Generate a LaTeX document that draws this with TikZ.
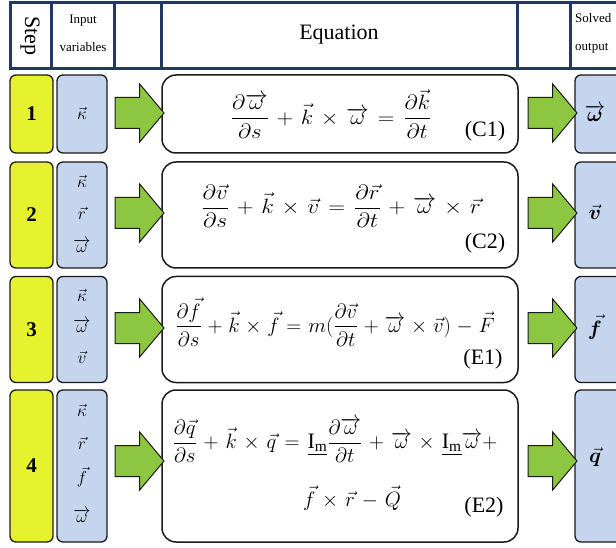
\documentclass[tikz,border=0pt]{standalone}
\usepackage{amsmath,bm}
\usepackage{fontspec}
\setmainfont{Liberation Serif}
\usetikzlibrary{shapes.arrows}
\definecolor{navy}{HTML}{1F3864}
\definecolor{stepyellow}{HTML}{E6F22E}
\definecolor{varblue}{HTML}{C6D5EE}
\definecolor{arrgreen}{HTML}{8DC641}
\definecolor{edge}{HTML}{1A1A1A}
\tikzset{
  hdr/.style={draw=navy, line width=3pt},
  stepbox/.style={draw=edge, fill=stepyellow, line width=1.3pt, rounded corners=6pt, minimum width=43pt, inner sep=0pt, font=\bfseries\fontsize{21}{24}\selectfont},
  varbox/.style={draw=edge, fill=varblue, line width=1.3pt, rounded corners=6pt, minimum width=50pt, inner sep=0pt},
  eqbox/.style={draw=edge, fill=white, line width=1.5pt, rounded corners=14pt, minimum width=356pt, inner sep=0pt},
  outbox/.style={draw=edge, fill=varblue, line width=1.3pt, rounded corners=6pt, minimum width=70pt, inner sep=0pt},
  bigarrow/.style={single arrow, draw=edge, fill=arrgreen, line width=1pt, minimum height=49pt, minimum width=57pt, single arrow head extend=13.5pt, single arrow tip angle=100, inner sep=0pt},
  vartxt/.style={inner sep=0pt, font=\fontsize{17}{20}\selectfont},
  eqtxt/.style={inner sep=0pt, font=\fontsize{22}{26}\selectfont},
  tagtxt/.style={inner sep=0pt, font=\fontsize{22}{25}\selectfont},
  outtxt/.style={inner sep=0pt, font=\fontsize{20}{24}\selectfont},
}
\newcommand{\shaft}{\rule{0pt}{30pt}}
\begin{document}
\begin{tikzpicture}[x=1pt,y=-1pt]
\useasboundingbox (0,0) rectangle (616,548);
% header
\draw[hdr] (10,3) rectangle (630,69);
\foreach \xx in {51,114,161,517,570} \draw[hdr] (\xx,3) -- (\xx,69);
\node[rotate=-90, inner sep=0pt, font=\fontsize{22}{24}\selectfont] (hstep) at (30,36) {Step};
\node[inner sep=0pt, align=center, font=\fontsize{13}{28}\selectfont] (hin) at (83,33) {Input\\variables};
\node[inner sep=0pt, font=\fontsize{22}{24}\selectfont] (heq) at (339,35) {Equation};
\node[inner sep=0pt, align=left, anchor=west, font=\fontsize{13}{28}\selectfont] (hout) at (575,33) {Solved\\output};
% boxes
\node[stepbox, minimum height=78pt] (s1) at (31.5,114) {1};
\node[stepbox, minimum height=106pt] (s2) at (31.5,215) {2};
\node[stepbox, minimum height=106pt] (s3) at (31.5,329.5) {3};
\node[stepbox, minimum height=152pt] (s4) at (31.5,466) {4};
\node[varbox, minimum height=78pt] (v1) at (82,114) {};
\node[varbox, minimum height=106pt] (v2) at (82,215) {};
\node[varbox, minimum height=106pt] (v3) at (82,329.5) {};
\node[varbox, minimum height=152pt] (v4) at (82,466) {};
\node[eqbox, minimum height=78pt] (e1) at (340,114) {};
\node[eqbox, minimum height=106pt] (e2) at (340,215) {};
\node[eqbox, minimum height=106pt] (e3) at (340,329.5) {};
\node[eqbox, minimum height=152pt] (e4) at (340,466) {};
\node[outbox, minimum height=78pt] (o1) at (610,114) {};
\node[outbox, minimum height=106pt] (o2) at (610,215) {};
\node[outbox, minimum height=106pt] (o3) at (610,329.5) {};
\node[outbox, minimum height=152pt] (o4) at (610,466) {};
% arrows
\node[bigarrow] (a1) at (133,113) {\shaft};
\node[bigarrow] (a2) at (133,213) {\shaft};
\node[bigarrow] (a3) at (133,328) {\shaft};
\node[bigarrow] (a4) at (133,461) {\shaft};
\node[bigarrow] (b1) at (546,113) {\shaft};
\node[bigarrow] (b2) at (546,213) {\shaft};
\node[bigarrow] (b3) at (546,328) {\shaft};
\node[bigarrow] (b4) at (546,461) {\shaft};
% input variables
\node[vartxt] (v1a) at (82,113) {$\vec{\kappa}$};
\node[vartxt] (v2a) at (82,181) {$\vec{\kappa}$};
\node[vartxt] (v2b) at (82,213) {$\vec{r}$};
\node[vartxt] (v2c) at (82,246) {$\overrightarrow{\omega}$};
\node[vartxt] (v3a) at (82,295) {$\vec{\kappa}$};
\node[vartxt] (v3b) at (82,326) {$\overrightarrow{\omega}$};
\node[vartxt] (v3c) at (82,357) {$\vec{v}$};
\node[vartxt] (v4a) at (82,410) {$\vec{\kappa}$};
\node[vartxt] (v4b) at (82,443) {$\vec{r}$};
\node[vartxt] (v4c) at (82,477) {$\vec{f}$};
\node[vartxt] (v4d) at (82,516) {$\overrightarrow{\omega}$};
% outputs
\node[outtxt] (o1t) at (595,113) {$\overrightarrow{\bm{\omega}}$};
\node[outtxt] (o2t) at (595,212) {$\vec{\bm{v}}$};
\node[outtxt] (o3t) at (595,327) {$\vec{\bm{f}}$};
\node[outtxt] (o4t) at (595,457) {$\vec{\bm{q}}$};
% equations
\node[eqtxt] (eq1) at (331,114) {\scalebox{1.1}[1]{\medmuskip=6mu\thickmuskip=7mu$\dfrac{\partial\overrightarrow{\omega}}{\partial s}+\vec{k}\times\overrightarrow{\omega}=\dfrac{\partial\vec{k}}{\partial t}$}};
\node[tagtxt] (t1) at (485,131) {(C1)};
\node[eqtxt] (eq2) at (341,206) {\scalebox{1.12}[1]{\medmuskip=6mu\thickmuskip=7mu$\dfrac{\partial\vec{v}}{\partial s}+\vec{k}\times\vec{v}=\dfrac{\partial\vec{r}}{\partial t}+\overrightarrow{\omega}\times\vec{r}$}};
\node[tagtxt] (t2) at (485,243) {(C2)};
\node[eqtxt] (eq3) at (335,322) {\medmuskip=5mu\thickmuskip=6mu$\dfrac{\partial\vec{f}}{\partial s}+\vec{k}\times\vec{f}=m(\dfrac{\partial\vec{v}}{\partial t}+\overrightarrow{\omega}\times\vec{v})-\vec{F}$};
\node[tagtxt] (t3) at (483,359) {(E1)};
\node[eqtxt] (eq4a) at (335,440) {\medmuskip=6mu\thickmuskip=7mu$\dfrac{\partial\vec{q}}{\partial s}+\vec{k}\times\vec{q}=\underline{\mathrm{I}_{\mathrm{m}}}\dfrac{\partial\overrightarrow{\omega}}{\partial t}+\overrightarrow{\omega}\times\underline{\mathrm{I}_{\mathrm{m}}}\overrightarrow{\omega}+$};
\node[eqtxt] (eq4b) at (352,498) {\medmuskip=6mu\thickmuskip=7mu$\vec{f}\times\vec{r}-\vec{Q}$};
\node[tagtxt] (t4) at (484,507) {(E2)};
\end{tikzpicture}
\end{document}
